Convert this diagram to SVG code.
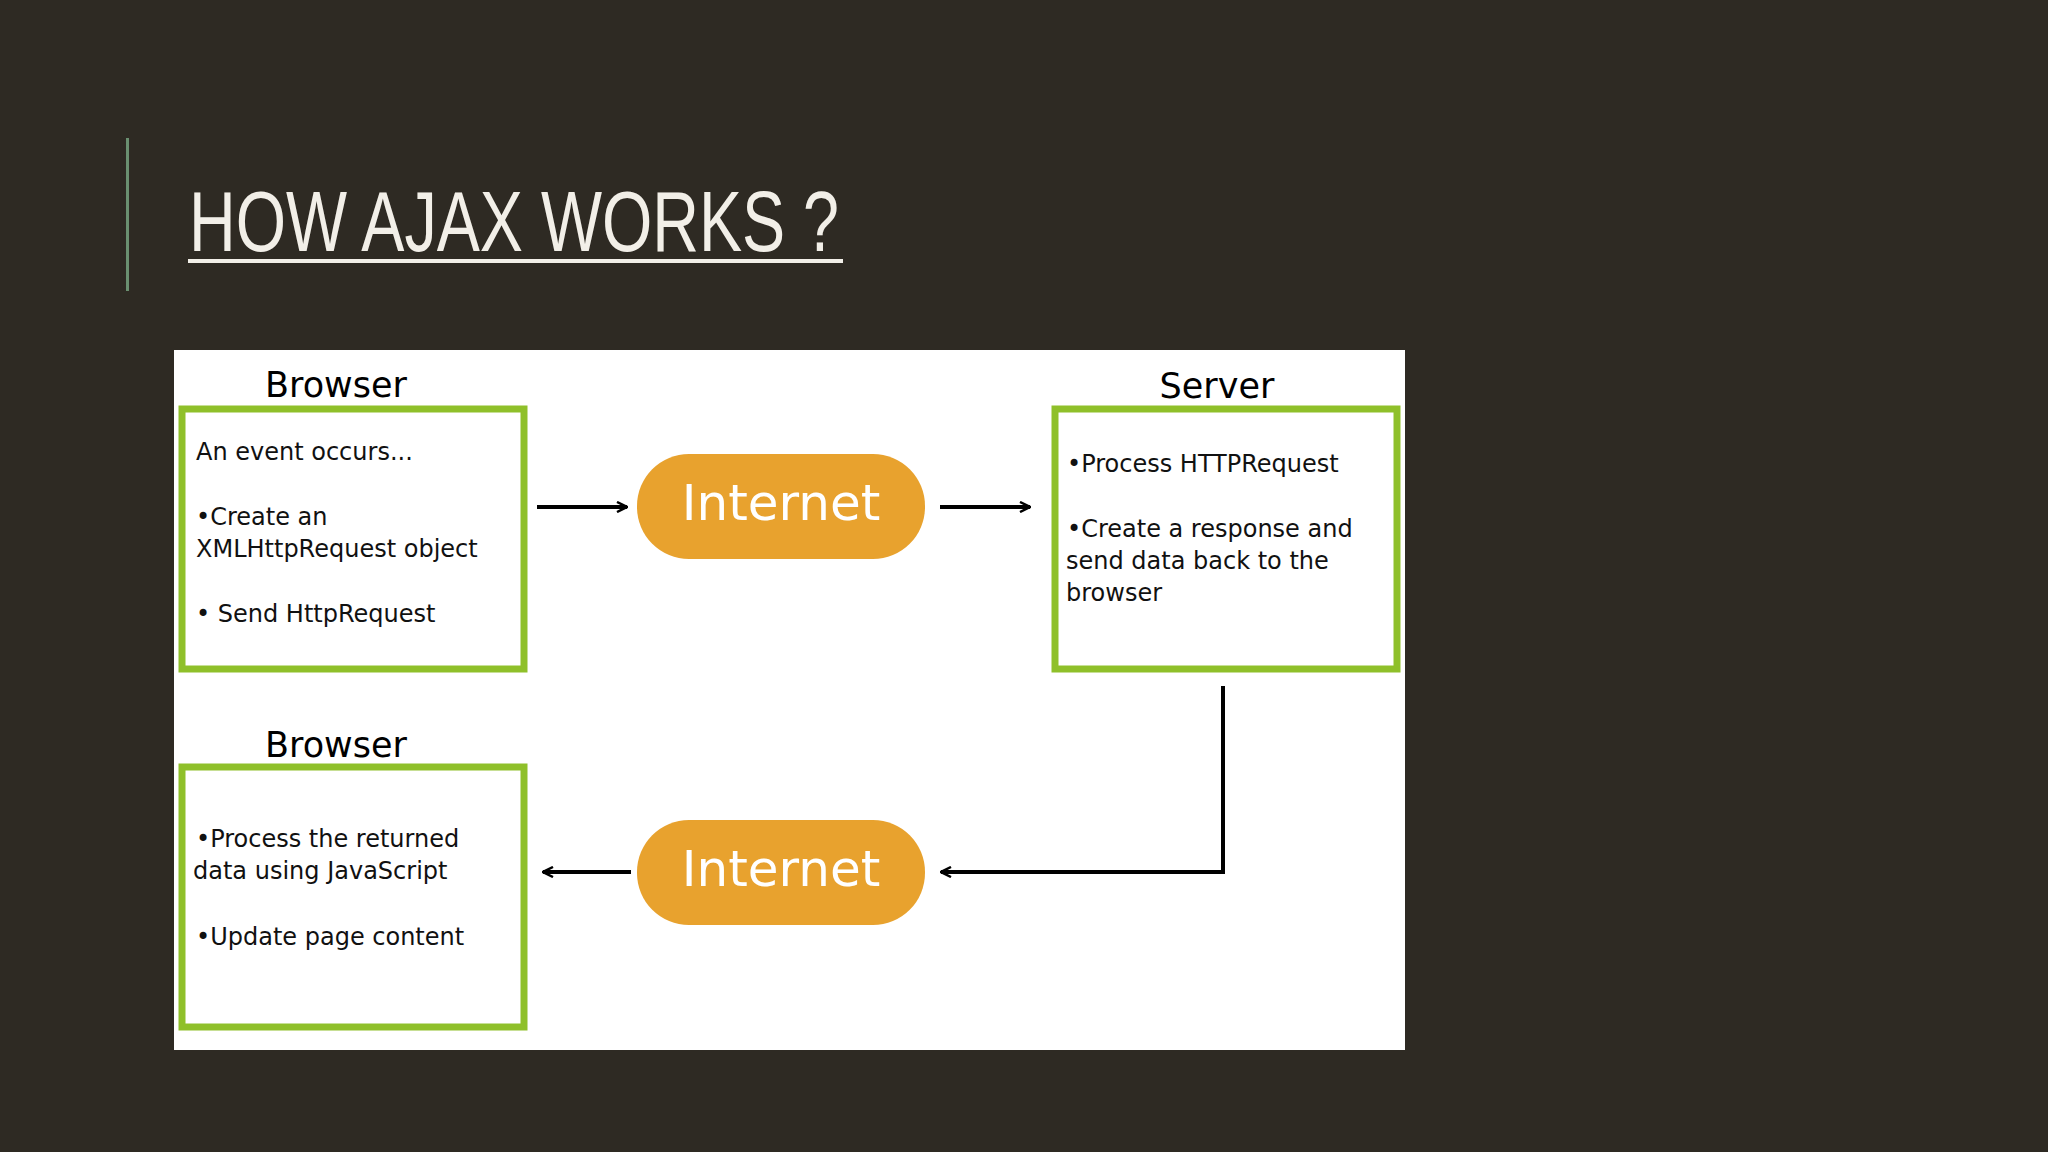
<svg xmlns="http://www.w3.org/2000/svg" width="2048" height="1152" viewBox="0 0 2048 1152">
<defs>
<marker id="ah" viewBox="0 0 12 12" refX="11" refY="6" markerWidth="12" markerHeight="12" markerUnits="userSpaceOnUse" orient="auto"><path d="M1,1 L11,6 L1,11" fill="none" stroke="#000" stroke-width="2.5"/></marker>
</defs>
<style>
.box{fill:#fff;stroke:#8fc02a;stroke-width:7}
.lbl{font-family:"DejaVu Sans",sans-serif;font-size:35px;fill:#000;text-anchor:middle}
.t{font-family:"DejaVu Sans",sans-serif;font-size:24px;fill:#111}
.pill{fill:#e8a22e}
.pt{font-family:"DejaVu Sans",sans-serif;font-size:50px;fill:#fff;text-anchor:middle}
.c{fill:none;stroke:#000;stroke-width:4;marker-end:url(#ah)}
</style>
<rect width="2048" height="1152" fill="#2e2a23"/>
<rect x="126" y="138" width="3" height="153" fill="#6a8f70"/>
<text x="189" y="251" font-family="Liberation Sans,sans-serif" font-size="86" fill="#f2efe8" textLength="650" lengthAdjust="spacingAndGlyphs">HOW AJAX WORKS ?</text>
<rect x="188" y="259" width="655" height="4" fill="#f2efe8"/>
<rect x="174" y="350" width="1231" height="700" fill="#fff"/>
<g id="browser1"><text class="lbl" x="336" y="397">Browser</text><rect class="box" x="182" y="409" width="342" height="260"/>
<text class="t" x="196" y="460">An event occurs...</text><text class="t" x="196" y="525">•Create an</text><text class="t" x="196" y="557">XMLHttpRequest object</text><text class="t" x="196" y="622">• Send HttpRequest</text></g>
<g id="server"><text class="lbl" x="1217" y="398">Server</text><rect class="box" x="1055" y="409" width="342" height="260"/>
<text class="t" x="1067" y="472">•Process HTTPRequest</text><text class="t" x="1067" y="537">•Create a response and</text><text class="t" x="1066" y="569">send data back to the</text><text class="t" x="1066" y="601">browser</text></g>
<g id="browser2"><text class="lbl" x="336" y="757">Browser</text><rect class="box" x="182" y="767" width="342" height="260"/>
<text class="t" x="196" y="847">•Process the returned</text><text class="t" x="193" y="879">data using JavaScript</text><text class="t" x="196" y="945">•Update page content</text></g>
<g id="internet1"><rect class="pill" x="637" y="454" width="288" height="105" rx="52"/><text class="pt" x="781" y="520">Internet</text></g>
<g id="internet2"><rect class="pill" x="637" y="820" width="288" height="105" rx="52"/><text class="pt" x="781" y="886">Internet</text></g>
<g id="connectors">
<path class="c" d="M537,507 H627"/>
<path class="c" d="M940,507 H1030"/>
<path class="c" d="M1223,686 V872 H941"/>
<path class="c" d="M631,872 H543"/>
</g>
</svg>
